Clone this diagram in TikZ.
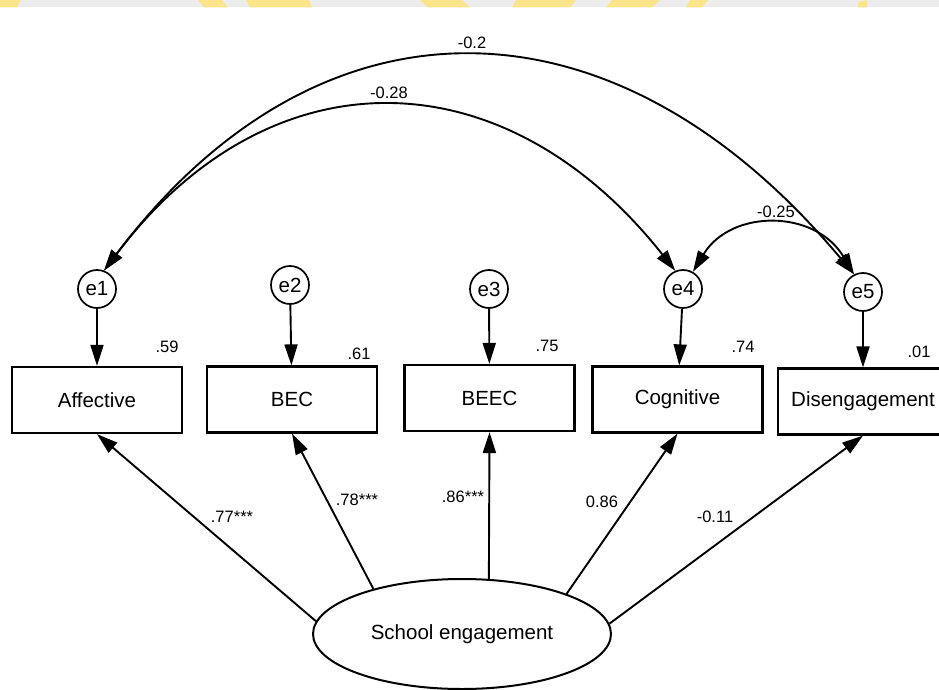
\documentclass[tikz,border=0pt]{standalone}
\usepackage{fontspec}
\setmainfont{Liberation Sans}
\usetikzlibrary{arrows.meta,shapes.geometric}

\definecolor{bandgrey}{HTML}{ECECEC}
\definecolor{bandyellow}{HTML}{FBE48A}

\begin{document}
\begin{tikzpicture}[x=1pt,y=-1pt,
  every node/.style={font=\fontsize{20.5}{24}\selectfont},
  obs/.style={draw, line width=2.2pt, minimum width=170pt, minimum height=66pt, inner sep=0pt},
  err/.style={draw, circle, line width=1.7pt, minimum size=38pt, inner sep=0pt},
  lat/.style={draw, ellipse, line width=2pt, minimum width=298pt, minimum height=110pt, inner sep=0pt},
  coef/.style={font=\fontsize{16.5}{19}\selectfont, inner sep=0pt},
  tipshape/.tip={Triangle[length=21pt,width=13pt]},
  path/.style={line width=1.9pt, -tipshape},
  cov/.style={line width=1.9pt, tipshape-tipshape},
]
\useasboundingbox (0,0) rectangle (939,690);

% strip along the top edge
\fill[bandgrey] (0,0) rectangle (939,7.5);
\fill[bandyellow] (0,0) -- (21,0) -- (17,7.5) -- (0,7.5) -- cycle;
\fill[bandyellow] (198,0) -- (222,0) -- (228,7.5) -- (204,7.5) -- cycle;
\fill[bandyellow] (246,0) -- (309,0) -- (312,7.5) -- (250,7.5) -- cycle;
\fill[bandyellow] (420,0) -- (462,0) -- (470,7.5) -- (428,7.5) -- cycle;
\fill[bandyellow] (516,0) -- (576,0) -- (570,7.5) -- (512,7.5) -- cycle;
\fill[bandyellow] (612,0) -- (660,0) -- (652,7.5) -- (606,7.5) -- cycle;
\fill[bandyellow] (690,0) -- (708,0) -- (702,7.5) -- (686,7.5) -- cycle;
\fill[bandyellow] (858,2) -- (867,0) -- (867,7.5) -- (858,7.5) -- cycle;

% residual terms
\node[err] (e1) at (97,289) {e1};
\node[err] (e2) at (290,285) {e2};
\node[err] (e3) at (489,289) {e3};
\node[err] (e4) at (683,289) {e4};
\node[err] (e5) at (863,292) {e5};

% observed indicators
\node[obs] (aff) at (97,400) {Affective};
\node[obs] (bec) at (292,399.5) {BEC};
\node[obs] (beec) at (489.5,398) {BEEC};
\node[obs] (cog) at (677.5,399.5) {Cognitive};
\node[obs] (dis) at (863,401.5) {Disengagement};

% latent factor
\node[lat] (se) at (462,634) {School engagement};

% residual paths
\draw[path] (e1) -- (aff);
\draw[path] (e2) -- (bec);
\draw[path] (e3) -- (beec);
\draw[path] (e4) -- (cog);
\draw[path] (e5) -- (dis);

% squared multiple correlations
\node[coef] (r1) at (167,347) {.59};
\node[coef] (r2) at (359,354) {.61};
\node[coef] (r3) at (547,346) {.75};
\node[coef] (r4) at (743,347) {.74};
\node[coef] (r5) at (919,352) {.01};

% factor loadings
\draw[path] (se.175.2) -- (aff.south);
\draw[path] (se.153.9) -- (bec.south);
\draw[path] (se.64.7) -- (beec.south);
\draw[path] (se.21.3) -- (cog.south);
\draw[path] (se.4.7) -- (dis.south);

\node[coef] (l1) at (232,517) {.77***};
\node[coef] (l2) at (357,500) {.78***};
\node[coef] (l3) at (463,497) {.86***};
\node[coef] (l4) at (602,502) {0.86};
\node[coef] (l5) at (715,517) {-0.11};

% residual covariances
\draw[cov] (e1.69) .. controls (320,-16) and (614,-13) .. (e5.117);
\draw[cov] (e1.69) .. controls (269,52) and (503,53) .. (e4.113);
\draw[cov] (e4.60) .. controls (731,209) and (815,209) .. (e5.117);

\node[coef] (c15) at (472,43) {-0.2};
\node[coef] (c14) at (389,93) {-0.28};
\node[coef] (c45) at (776,212) {-0.25};
\end{tikzpicture}
\end{document}
